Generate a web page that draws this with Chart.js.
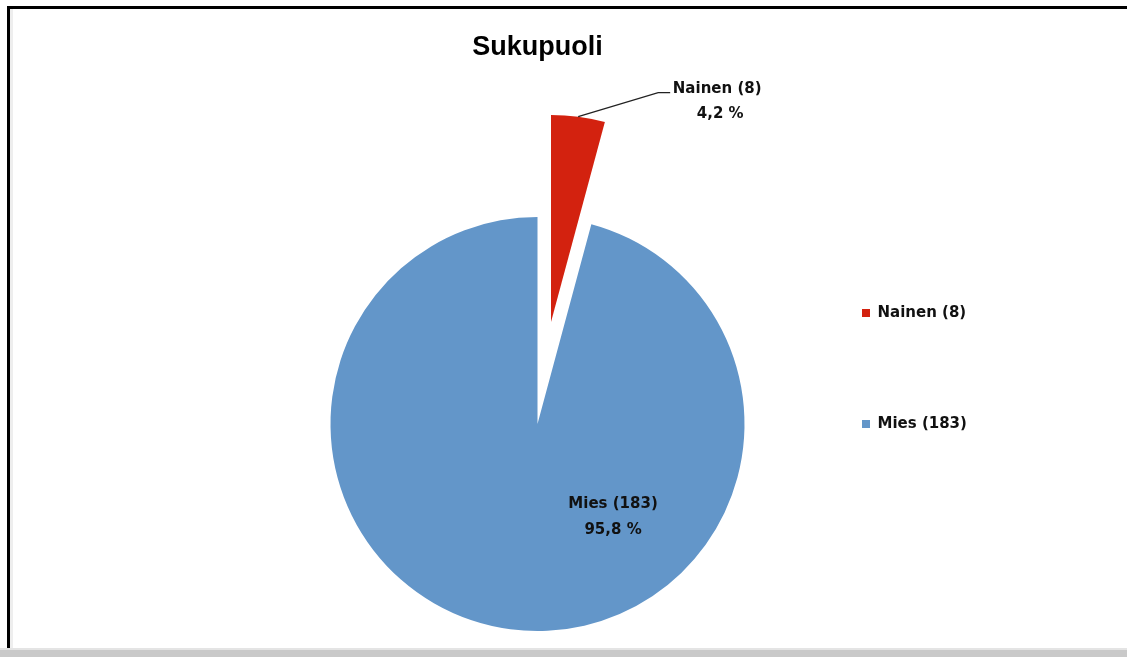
<!DOCTYPE html>
<html lang="fi">
<head>
<meta charset="utf-8">
<title>Sukupuoli</title>
<script src="https://cdn.jsdelivr.net/npm/chart.js@4.4.1/dist/chart.umd.min.js"></script>
<style>
  html, body { margin: 0; padding: 0; background: #fff; overflow: hidden; }
  body { width: 1127px; height: 657px; position: relative; }
  .frame { position: absolute; left: 7px; top: 6px; right: 0; bottom: 7px; border-left: 3px solid #000; border-top: 3px solid #000; }
  .shade { position: absolute; left: 10px; top: 9px; bottom: 7px; width: 3px; background: #eeeeee; }
  .base { position: absolute; left: 0; right: 0; bottom: 0; height: 7px; background: #c9c9c9; border-top: 2px solid #e4e4e4; }
  .wrap { position: absolute; left: 0; top: 0; width: 1127px; height: 737px; }
</style>
</head>
<body>
<div class="frame"></div>
<div class="shade"></div>
<div class="base"></div>
<div class="wrap"><canvas id="gender-chart" width="1127" height="737"></canvas></div>
<script>
const names  = ['Nainen', 'Mies'];
const counts = [8, 183];

const total      = counts.reduce((s, v) => s + v, 0);
const categories = names.map((n, i) => n + ' (' + counts[i] + ')');
const percents   = counts.map(v => (v / total * 100).toFixed(1).replace('.', ',') + ' %');

const PIE_RADIUS = 207;
const EXPLODE    = [103, 0];   // px each slice is pulled out from the centre
const LABEL_FONT = 'bold 15px "DejaVu Sans", sans-serif';

const sliceLabels = {
  id: 'sliceLabels',
  // move exploded slices out along their middle angle, keeping radius and angle intact
  afterDatasetUpdate(chart, args) {
    args.meta.data.forEach((arc, i) => {
      const d = EXPLODE[i] || 0;
      if (!d) return;
      const mid = (arc.startAngle + arc.endAngle) / 2;
      arc.x += Math.cos(mid) * d;
      arc.y += Math.sin(mid) * d;
    });
  },
  afterDatasetsDraw(chart) {
    const ctx  = chart.ctx;
    const meta = chart.getDatasetMeta(0);
    ctx.save();
    ctx.font = LABEL_FONT;
    ctx.fillStyle = '#111';
    ctx.textAlign = 'center';
    ctx.textBaseline = 'middle';

    meta.data.forEach((arc, i) => {
      const p = arc.getProps(['x', 'y', 'startAngle', 'endAngle', 'outerRadius'], true);
      const mid = (p.startAngle + p.endAngle) / 2;

      if (i === 0) {
        // leader line from the rim of the exploded slice
        const ox = p.x + Math.cos(mid) * p.outerRadius;
        const oy = p.y + Math.sin(mid) * p.outerRadius;

        ctx.strokeStyle = '#222';
        ctx.lineWidth = 1.3;
        ctx.beginPath();
        ctx.moveTo(ox, oy);
        ctx.lineTo(ox + 80, oy - 24);
        ctx.lineTo(ox + 92, oy - 24);
        ctx.stroke();

        ctx.fillText(categories[i], ox + 139, oy - 28);
        ctx.fillText(percents[i], ox + 142, oy - 3);
      } else {
        const cx = p.x + p.outerRadius * 0.365;
        const cy = p.y + p.outerRadius * 0.451;
        ctx.fillText(categories[i], cx, cy - 13);
        ctx.fillText(percents[i], cx, cy + 13);
      }
    });
    ctx.restore();
  }
};

const ctx = document.getElementById('gender-chart').getContext('2d');
new Chart(ctx, {
  type: 'pie',
  data: {
    labels: categories,
    datasets: [{
      data: counts,
      backgroundColor: ['#d3220f', '#6396c9'],
      borderWidth: 0,
    }]
  },
  options: {
    responsive: false,
    animation: false,
    devicePixelRatio: 1,
    radius: PIE_RADIUS,
    layout: { padding: { left: 309, right: 161, top: 0, bottom: 0 } },
    plugins: {
      title: {
        display: true,
        text: 'Sukupuoli',
        fullSize: false,
        color: '#000',
        font: { family: '"Liberation Sans", Arial, sans-serif', size: 27, weight: 'bold', lineHeight: 1.2 },
        padding: { top: 31, bottom: 47.6 },
      },
      legend: {
        position: 'right',
        maxWidth: 200,
        labels: {
          boxWidth: 8,
          boxHeight: 8,
          padding: 96,
          color: '#111',
          font: { family: '"DejaVu Sans", sans-serif', size: 15, weight: 'bold' },
        }
      },
      tooltip: { enabled: false },
    }
  },
  plugins: [sliceLabels]
});
</script>
</body>
</html>
